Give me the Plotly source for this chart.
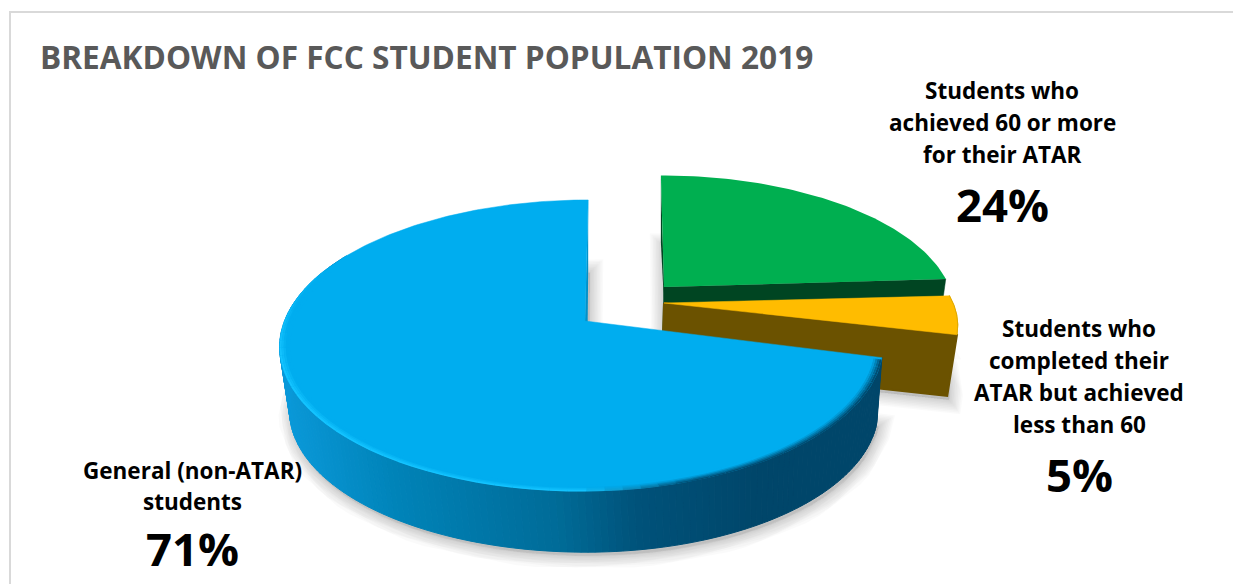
import numpy as np
import plotly.graph_objects as go

# Pie data, clockwise from twelve o'clock
category_lines = [["Students who", "achieved 60 or more", "for their ATAR"],
                  ["Students who", "completed their", "ATAR but achieved", "less than 60"],
                  ["General (non-ATAR)", "students"]]
shares = [24, 5, 71]
share_labels = ["24%", "5%", "71%"]
title_text = "BREAKDOWN OF FCC STUDENT POPULATION 2019"

W, H = 1233, 584
FONT = "Open Sans"

# Perspective model of the tilted disc
RX, RY, K = 300.5, 141.4, 0.168
SHRINK = 0.975
VANISH_X = 625.0

# Per-slice apex position, radius factors, thickness and colours
slices = [
    dict(cx=664.0, cy=287.0, scale=0.95, sy=0.97, right=1.0, drop=64.0, top="#00AF50", wall="#004522"),
    dict(cx=664.0, cy=303.0, scale=0.962, sy=0.90, right=1.0, drop=62.0, top="#FFBC00", wall="#6B5200"),
    dict(cx=585.0, cy=321.0, scale=1.0, sy=1.0, right=0.98, drop=65.5, top="#00ADEF", wall="#00466A"),
]
SIDE_STOPS = [(280, "#0A9ADB"), (400, "#0083B8"), (560, "#006C98"),
              (640, "#00527A"), (760, "#00466A"), (900, "#00466A")]

edges = np.cumsum([0] + shares) / sum(shares) * 2 * np.pi


def top_pt(t, s):
    u, v = np.sin(t), np.cos(t)
    p = 1 / (1 + K * v)
    side = np.where(u > 0, s["right"], 1.0)
    x = s["cx"] + side * s["scale"] * RX * u * p + (VANISH_X - s["cx"]) * 0.08 * v
    y = s["cy"] - s["scale"] * s["sy"] * RY * v * p
    return x, y


def bot_pt(t, s):
    u, v = np.sin(t), np.cos(t)
    p = 1 / (1 + K * v)
    side = np.where(u > 0, s["right"], 1.0)
    x = s["cx"] + (VANISH_X - s["cx"]) * (0.05 + 0.03 * v) + side * SHRINK * s["scale"] * RX * u * p
    y = s["cy"] + s["drop"] - SHRINK * s["scale"] * s["sy"] * RY * v * p
    return x, y


def apex_bottom_x(s):
    return s["cx"] + (VANISH_X - s["cx"]) * 0.05


def rgb(c):
    return np.array([int(c[i:i + 2], 16) for i in (1, 3, 5)], float)


def mix(a, b, w):
    return rgb(a) * (1 - w) + rgb(b) * w


def css(c):
    return "rgb(%d,%d,%d)" % tuple(np.round(c))


def side_colour(x):
    xs = [p[0] for p in SIDE_STOPS]
    cols = np.array([rgb(p[1]) for p in SIDE_STOPS])
    return css([np.interp(x, xs, cols[:, i]) for i in range(3)])


fig = go.Figure()


def poly(xs, ys, fill, width=0.0):
    xs, ys = [float(v) for v in xs], [float(v) for v in ys]
    fig.add_trace(go.Scatter(
        x=xs + [xs[0]], y=ys + [ys[0]], mode="lines", fill="toself",
        fillcolor=fill, line=dict(color=fill, width=width),
        hoverinfo="skip", showlegend=False))


def stroke(xs, ys, colour, width):
    fig.add_trace(go.Scatter(x=[float(v) for v in xs], y=[float(v) for v in ys], mode="lines",
                             line=dict(color=colour, width=width),
                             hoverinfo="skip", showlegend=False))


def sector_top(s, a, b, n=80):
    xs, ys = top_pt(np.linspace(a, b, n), s)
    return [s["cx"]] + list(xs), [s["cy"]] + list(ys)


def sector_bottom(s, a, b, n=80):
    xs, ys = bot_pt(np.linspace(a, b, n), s)
    return [apex_bottom_x(s)] + list(xs), [s["cy"] + s["drop"]] + list(ys)


# Soft drop shadows under each slice's lower face
for i, s in enumerate(slices):
    xs, ys = sector_bottom(s, edges[i], edges[i + 1])
    xs = [float(x) + 2 for x in xs]
    ys = [float(y) + 4 for y in ys]
    for w in range(2, 27, 3):
        fig.add_trace(go.Scatter(
            x=xs + [xs[0]], y=ys + [ys[0]], mode="lines", fill="toself",
            fillcolor="rgba(0,0,0,0.012)",
            line=dict(color="rgba(0,0,0,0.018)", width=w),
            hoverinfo="skip", showlegend=False))

# Green slice: wall on the twelve o'clock edge, wall facing the viewer, upper face
s, a, b = slices[0], edges[0], edges[1]
nx, ny = top_pt(a, s)
mx, my = bot_pt(a, s)
poly([s["cx"], nx, mx, s["cx"]], [s["cy"], ny, my, slices[1]["cy"]], s["wall"])
ex, ey = top_pt(b, s)
fx, fy = bot_pt(b, s)
poly([s["cx"], ex, fx, apex_bottom_x(s)], [s["cy"], ey, fy, s["cy"] + s["drop"]], s["wall"], width=0.5)
px, py = sector_top(s, a, b)
poly(px, py, s["top"])

# Yellow slice: outer side, wall facing the viewer, upper face and its bevelled arc
s, a, b = slices[1], edges[1], edges[2]
ts = np.linspace(a, b, 50)
tx, ty = top_pt(ts, s)
bx, by = bot_pt(ts, s)
poly(list(tx) + list(bx[::-1]), list(ty) + list(by[::-1]), s["wall"])
ex, ey = top_pt(b, s)
fx, fy = bot_pt(b, s)
poly([s["cx"], ex, fx, apex_bottom_x(s)], [s["cy"], ey, fy, s["cy"] + s["drop"]], s["wall"], width=2)
px, py = sector_top(s, a, b)
poly(px, py, s["top"], width=0.5)
stroke(tx, ty, "#E0AA00", 1.0)

# Blue slice: wall, graded outer side, upper face, bevel along the rim
s, a, b = slices[2], edges[2], edges[3]
nx, ny = top_pt(b, s)
mx, my = bot_pt(b, s)
poly([s["cx"], nx, mx, apex_bottom_x(s)], [s["cy"], ny, my, s["cy"] + s["drop"]], "#0090C8")

ts = np.linspace(a, np.radians(300), 170)
for t0, t1 in zip(ts[:-1], ts[1:]):
    x0, y0 = top_pt(t0, s)
    x1, y1 = top_pt(t1, s)
    x2, y2 = bot_pt(t1, s)
    x3, y3 = bot_pt(t0, s)
    poly([x0, x1, x2, x3], [y0, y1, y2, y3], side_colour((x0 + x3) / 2), width=1)

px, py = sector_top(s, a, b, n=240)
poly(px, py, s["top"], width=0.5)

BANDS = [0.997, 0.990, 0.983, 0.976, 0.969]
RIM = "#14C4FF"
ts = np.linspace(a + 0.012, np.radians(292), 64)
for j, f in enumerate(BANDS):
    band = dict(s, scale=f)
    for t0, t1 in zip(ts[:-1], ts[1:]):
        xa, ya = top_pt(np.array([t0, t1]), band)
        dark = float(np.clip((xa.mean() - 580) / 110, 0, 1))
        fade = float(np.clip((np.degrees(t0) - 255) / 37, 0, 1))
        bright = mix(RIM, s["top"], min(1.0, j / 3 + fade))
        blur = mix(s["wall"], s["top"], min(1.0, (j + 0.3) / 4))
        stroke(xa, ya, css(bright * (1 - dark) + blur * dark), 2.2)

# Slice captions, one annotation per line, and their percentages
caption_x = [1002, 1079, 192]
caption_y0 = [90, 328, 470]
caption_step = [32, 32, 31]
share_pos = [(1002, 204), (1079, 474), (192, 548)]
annotations = [dict(x=38, y=56, text="<b>%s</b>" % title_text, showarrow=False,
                    xanchor="left", yanchor="middle",
                    font=dict(family=FONT, size=31.6, color="#595959"))]
for lines, cx, y0, step, lab, sp in zip(category_lines, caption_x, caption_y0,
                                        caption_step, share_labels, share_pos):
    for n, line in enumerate(lines):
        annotations.append(dict(x=cx, y=y0 + n * step, text="<b>%s</b>" % line, showarrow=False,
                                xanchor="center", yanchor="middle",
                                font=dict(family=FONT, size=22.5, color="#000000")))
    annotations.append(dict(x=sp[0], y=sp[1], text="<b>%s</b>" % lab, showarrow=False,
                            xanchor="center", yanchor="middle",
                            font=dict(family=FONT, size=45.5, color="#000000")))

fig.update_layout(
    width=W, height=H, margin=dict(l=0, r=0, t=0, b=0),
    paper_bgcolor="white", plot_bgcolor="white", showlegend=False, hovermode=False,
    xaxis=dict(range=[0, W], visible=False, fixedrange=True),
    yaxis=dict(range=[H, 0], visible=False, fixedrange=True),
    annotations=annotations,
    # chart frame, running off the right and lower edges
    shapes=[dict(type="rect", xref="x", yref="y", x0=10, y0=12, x1=W + 20, y1=H + 20,
                 line=dict(color="#D9D9D9", width=2), layer="below")],
)

fig.write_html("out.html", config=dict(displayModeBar=False))
